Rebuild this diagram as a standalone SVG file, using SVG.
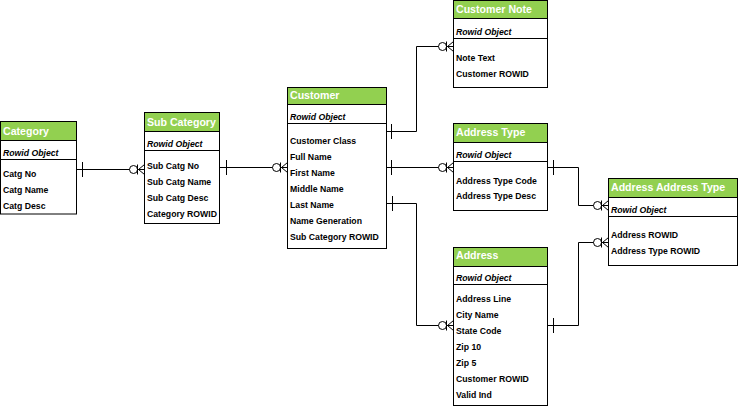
<svg xmlns="http://www.w3.org/2000/svg" width="738" height="406" viewBox="0 0 738 406">
<style>
.box{fill:#fff;stroke:#000;stroke-width:1}
.hdr{fill:#92D050;stroke:#000;stroke-width:1}
.sep{stroke:#000;stroke-width:1;fill:none}
.ht{font-family:"Liberation Sans",Arial,sans-serif;font-weight:bold;font-size:10.6px;fill:#fff}
.rw{font-family:"Liberation Sans",Arial,sans-serif;font-weight:bold;font-style:italic;font-size:8.7px;fill:#000}
.f{font-family:"Liberation Sans",Arial,sans-serif;font-weight:bold;font-size:8.7px;fill:#000}
.ln{stroke:#000;stroke-width:1;fill:none}
</style>
<defs>
<g id="crow" class="ln">
<circle cx="-11" cy="0" r="4" fill="#fff"/>
<path d="M-7 -5V5M-6 0L0 -5M-6 0L0 5"/>
</g>
<path id="tick" class="ln" d="M0 -7.5V7.5"/>
</defs>
<g id="connectors">
<path class="ln" d="M76.5 169.5H144.5"/>
<use href="#tick" x="82.5" y="169.5"/>
<use href="#crow" x="144.5" y="169.5"/>
<path class="ln" d="M219.5 167.5H287.5"/>
<use href="#tick" x="226.5" y="167.5"/>
<use href="#crow" x="287.5" y="167.5"/>
<path class="ln" d="M386.5 131.5H416.5V46.5H453.5"/>
<use href="#tick" x="391.5" y="131.5"/>
<use href="#crow" x="453.5" y="46.5"/>
<path class="ln" d="M386.5 167.5H453.5"/>
<use href="#tick" x="391.5" y="167.5"/>
<use href="#crow" x="453.5" y="167.5"/>
<path class="ln" d="M386.5 203.5H416.5V325.5H453.5"/>
<use href="#tick" x="392.5" y="203.5"/>
<use href="#crow" x="453.5" y="325.5"/>
<path class="ln" d="M547.5 167.5H578.5V205.5H608.5"/>
<use href="#tick" x="553.5" y="167.5"/>
<use href="#crow" x="608.5" y="205.5"/>
<path class="ln" d="M547.5 325.5H578.5V242.5H608.5"/>
<use href="#tick" x="553.5" y="325.5"/>
<use href="#crow" x="608.5" y="242.5"/>
</g>
<g id="category">
<rect class="box" x="0.5" y="121.5" width="76" height="92.5"/>
<rect class="hdr" x="0.5" y="121.5" width="76" height="19"/>
<path class="sep" d="M0.5 159.5H76.5"/>
<text class="ht" x="3" y="134.5">Category</text>
<text class="rw" x="3" y="156">Rowid Object</text>
<text class="f" x="3" y="177">Catg No</text>
<text class="f" x="3" y="193">Catg Name</text>
<text class="f" x="3" y="209">Catg Desc</text>
</g>
<g id="sub-category">
<rect class="box" x="144.5" y="112.5" width="75" height="111"/>
<rect class="hdr" x="144.5" y="112.5" width="75" height="19"/>
<path class="sep" d="M144.5 150.5H219.5"/>
<text class="ht" x="147" y="126">Sub Category</text>
<text class="rw" x="147" y="147">Rowid Object</text>
<text class="f" x="147" y="169">Sub Catg No</text>
<text class="f" x="147" y="185">Sub Catg Name</text>
<text class="f" x="147" y="201">Sub Catg Desc</text>
<text class="f" x="147" y="217">Category ROWID</text>
</g>
<g id="customer">
<rect class="box" x="287.5" y="87.5" width="99" height="161"/>
<rect class="hdr" x="287.5" y="87.5" width="99" height="17"/>
<path class="sep" d="M287.5 123.5H386.5"/>
<text class="ht" x="290" y="98.5">Customer</text>
<text class="rw" x="290" y="119.5">Rowid Object</text>
<text class="f" x="290" y="144">Customer Class</text>
<text class="f" x="290" y="160">Full Name</text>
<text class="f" x="290" y="176">First Name</text>
<text class="f" x="290" y="192">Middle Name</text>
<text class="f" x="290" y="208">Last Name</text>
<text class="f" x="290" y="224">Name Generation</text>
<text class="f" x="290" y="240">Sub Category ROWID</text>
</g>
<g id="customer-note">
<rect class="box" x="453.5" y="0.5" width="94" height="87"/>
<rect class="hdr" x="453.5" y="0.5" width="94" height="18"/>
<path class="sep" d="M453.5 38.5H547.5"/>
<text class="ht" x="456" y="13">Customer Note</text>
<text class="rw" x="456" y="35">Rowid Object</text>
<text class="f" x="456" y="61">Note Text</text>
<text class="f" x="456" y="77">Customer ROWID</text>
</g>
<g id="address-type">
<rect class="box" x="453.5" y="123.5" width="94" height="87"/>
<rect class="hdr" x="453.5" y="123.5" width="94" height="19"/>
<path class="sep" d="M453.5 161.5H547.5"/>
<text class="ht" x="456" y="136">Address Type</text>
<text class="rw" x="456" y="158">Rowid Object</text>
<text class="f" x="456" y="184">Address Type Code</text>
<text class="f" x="456" y="199">Address Type Desc</text>
</g>
<g id="address-address-type">
<rect class="box" x="608.5" y="178.5" width="129" height="87"/>
<rect class="hdr" x="608.5" y="178.5" width="129" height="19"/>
<path class="sep" d="M608.5 216.5H737.5"/>
<text class="ht" x="611" y="191">Address Address Type</text>
<text class="rw" x="611" y="213">Rowid Object</text>
<text class="f" x="611" y="238">Address ROWID</text>
<text class="f" x="611" y="254">Address Type ROWID</text>
</g>
<g id="address">
<rect class="box" x="453.5" y="247.5" width="94" height="158"/>
<rect class="hdr" x="453.5" y="247.5" width="94" height="19"/>
<path class="sep" d="M453.5 284.5H547.5"/>
<text class="ht" x="456" y="259">Address</text>
<text class="rw" x="456" y="281">Rowid Object</text>
<text class="f" x="456" y="302">Address Line</text>
<text class="f" x="456" y="318">City Name</text>
<text class="f" x="456" y="334">State Code</text>
<text class="f" x="456" y="350">Zip 10</text>
<text class="f" x="456" y="366">Zip 5</text>
<text class="f" x="456" y="382">Customer ROWID</text>
<text class="f" x="456" y="398">Valid Ind</text>
</g>
</svg>
